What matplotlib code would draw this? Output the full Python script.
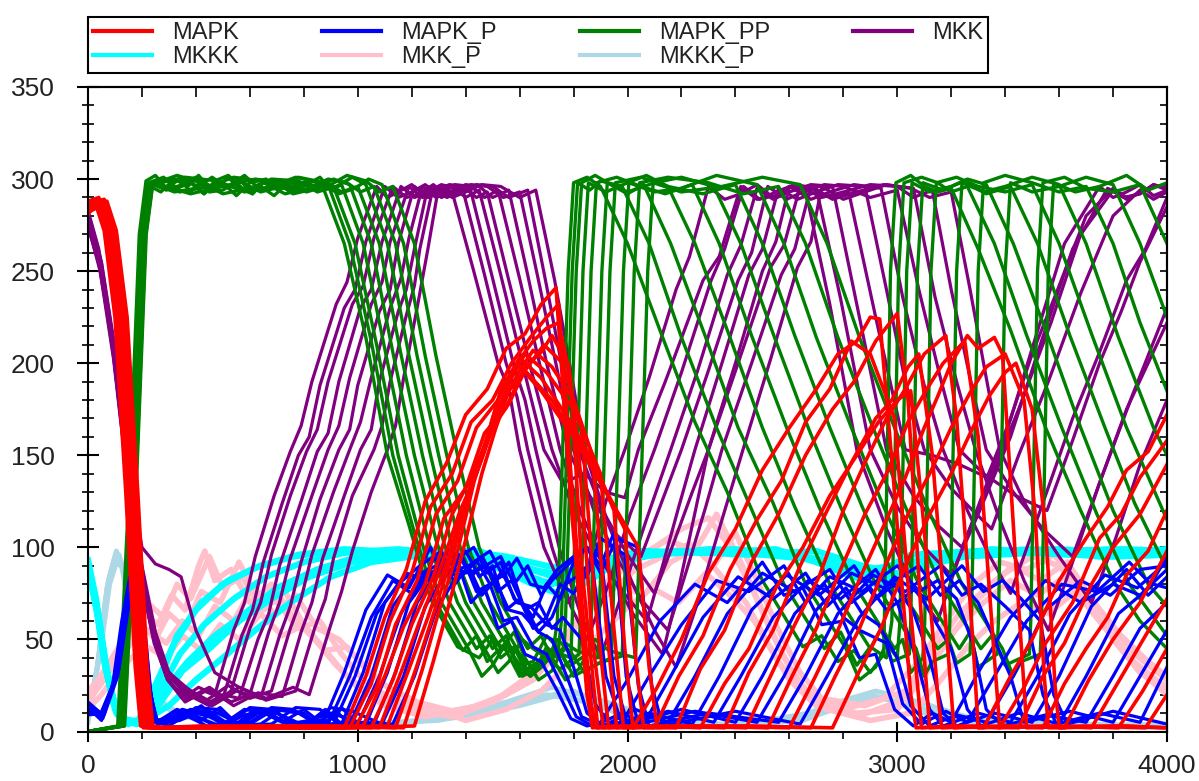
import matplotlib.pyplot as plt
from matplotlib.lines import Line2D
from matplotlib.ticker import MultipleLocator

plt.rcParams['font.family'] = ['Liberation Sans', 'DejaVu Sans']

# ten stochastic runs per species, each run a list of (time, molecules) vertices

mapk = [
    [(0, 283), (25, 288), (60, 272), (100, 225), (140, 130), (175, 35), (195, 3), (240, 2), (420, 3), (700, 2), (950, 2),
     (1030, 30), (1100, 62), (1180, 88), (1250, 125), (1330, 146), (1400, 172), (1480, 186), (1550, 208), (1620, 216),
     (1680, 232), (1735, 241), (1790, 125), (1850, 20), (1870, 2),
     (1950, 3), (2020, 2), (2110, 24), (2200, 50), (2300, 86), (2400, 110), (2500, 142), (2600, 165), (2700, 186),
     (2780, 205), (2850, 212), (2900, 225), (2935, 224), (2990, 130), (3050, 20), (3070, 2), (3200, 3), (3320, 2),
     (3420, 30), (3500, 50), (3600, 82), (3700, 105), (3780, 122), (3850, 142), (3930, 152), (4000, 172)],
    [(0, 286), (30, 289), (65, 273), (105, 226), (145, 132), (180, 36), (200, 3), (245, 2), (500, 3), (800, 2), (970, 2),
     (1050, 26), (1120, 60), (1200, 86), (1270, 122), (1350, 140), (1420, 168), (1500, 180), (1570, 200), (1640, 214),
     (1700, 225), (1745, 232), (1800, 120), (1865, 15), (1885, 2),
     (2000, 3), (2100, 2), (2190, 30), (2280, 52), (2380, 88), (2480, 115), (2570, 136), (2660, 168), (2750, 186),
     (2830, 212), (2900, 205), (2990, 170), (3040, 80), (3090, 2), (3250, 3), (3380, 2), (3470, 24), (3550, 48),
     (3650, 70), (3750, 105), (3830, 118), (3900, 138), (4000, 158)],
    [(0, 281), (35, 287), (70, 270), (110, 224), (150, 128), (185, 34), (205, 2), (250, 2), (600, 3), (990, 2),
     (1070, 24), (1140, 58), (1220, 82), (1290, 118), (1370, 136), (1440, 165), (1520, 180), (1590, 200), (1650, 212),
     (1700, 219), (1745, 222), (1790, 190), (1830, 90), (1890, 2),
     (2050, 3), (2180, 2), (2270, 34), (2360, 55), (2460, 92), (2560, 118), (2660, 150), (2760, 175), (2840, 190),
     (2920, 212), (3000, 227), (3040, 180), (3090, 60), (3120, 2), (3300, 3), (3450, 2), (3540, 30), (3620, 48),
     (3720, 80), (3800, 100), (3900, 118), (4000, 145)],
    [(0, 288), (40, 290), (75, 274), (115, 226), (155, 130), (190, 35), (210, 3), (255, 2), (650, 2), (1020, 3),
     (1100, 30), (1170, 57), (1250, 80), (1320, 116), (1400, 132), (1470, 162), (1550, 176), (1620, 198), (1680, 206),
     (1720, 215), (1780, 200), (1820, 150), (1870, 50), (1910, 2),
     (2100, 3), (2270, 2), (2360, 26), (2450, 45), (2550, 78), (2650, 100), (2750, 128), (2850, 150), (2930, 168),
     (3000, 180), (3050, 185), (3100, 110), (3150, 20), (3165, 2), (3400, 3), (3540, 2), (3620, 26), (3700, 45),
     (3780, 62), (3850, 85), (3930, 98), (4000, 120)],
    [(0, 284), (45, 287), (80, 271), (120, 225), (160, 131), (195, 36), (215, 3), (260, 2), (700, 3), (1050, 2),
     (1130, 28), (1200, 58), (1280, 84), (1350, 118), (1420, 138), (1500, 165), (1560, 178), (1620, 196), (1690, 210),
     (1760, 200), (1830, 165), (1880, 70), (1930, 2),
     (2150, 3), (2360, 2), (2450, 32), (2540, 55), (2640, 90), (2740, 120), (2830, 146), (2920, 170), (2980, 180),
     (3040, 198), (3080, 205), (3130, 150), (3190, 40), (3210, 2), (3450, 3), (3620, 2), (3710, 28), (3800, 50),
     (3900, 70), (4000, 98)],
    [(0, 285), (50, 288), (85, 272), (125, 224), (165, 129), (200, 34), (220, 2), (265, 2), (750, 3), (1080, 2),
     (1160, 32), (1230, 60), (1300, 86), (1380, 120), (1440, 140), (1500, 165), (1550, 182), (1600, 196), (1650, 207),
     (1720, 198), (1800, 180), (1870, 150), (1920, 60), (1960, 2),
     (2200, 3), (2440, 2), (2530, 30), (2620, 58), (2710, 84), (2800, 120), (2880, 146), (2960, 170), (3030, 186),
     (3100, 205), (3180, 215), (3220, 170), (3280, 50), (3300, 2), (3550, 3), (3720, 2), (3800, 22), (3880, 42),
     (4000, 72)],
    [(0, 282), (55, 286), (90, 270), (130, 225), (170, 130), (205, 35), (225, 3), (270, 2), (800, 2), (1110, 3),
     (1190, 34), (1260, 62), (1330, 92), (1400, 125), (1460, 148), (1520, 175), (1570, 192), (1620, 205), (1700, 195),
     (1800, 175), (1900, 140), (1950, 55), (1985, 2),
     (2250, 3), (2520, 2), (2610, 30), (2700, 56), (2790, 88), (2880, 118), (2960, 140), (3040, 168), (3110, 186),
     (3170, 200), (3250, 212), (3300, 160), (3360, 40), (3380, 2), (3600, 3), (3820, 2), (3910, 22), (4000, 45)],
    [(0, 287), (60, 289), (95, 273), (135, 226), (175, 131), (210, 36), (230, 3), (275, 2), (850, 3), (1140, 2),
     (1220, 36), (1290, 68), (1360, 100), (1420, 135), (1480, 160), (1530, 185), (1600, 203), (1680, 192), (1780, 170),
     (1880, 145), (1950, 120), (1990, 45), (2020, 2),
     (2300, 3), (2600, 2), (2690, 28), (2780, 55), (2870, 86), (2960, 115), (3030, 138), (3100, 165), (3150, 182),
     (3200, 200), (3260, 215), (3300, 208), (3360, 214), (3390, 205), (3440, 90), (3480, 2), (3700, 3), (3920, 2),
     (4000, 20)],
    [(0, 283), (65, 287), (100, 271), (140, 224), (180, 130), (215, 35), (235, 2), (280, 2), (900, 3), (1170, 2),
     (1240, 34), (1300, 65), (1370, 98), (1430, 135), (1480, 160), (1530, 185), (1590, 200), (1680, 185), (1800, 160),
     (1920, 130), (1990, 110), (2030, 40), (2060, 2),
     (2400, 3), (2680, 2), (2770, 30), (2860, 56), (2950, 88), (3040, 118), (3120, 140), (3200, 165), (3270, 184),
     (3330, 198), (3400, 205), (3470, 180), (3510, 120), (3545, 30), (3560, 2), (3800, 3), (4000, 2)],
    [(0, 286), (70, 288), (105, 272), (145, 225), (185, 129), (220, 34), (240, 3), (285, 2), (950, 2), (1210, 3),
     (1280, 38), (1340, 70), (1400, 104), (1460, 140), (1510, 164), (1560, 185), (1620, 196), (1720, 180), (1850, 150),
     (1960, 120), (2040, 100), (2080, 35), (2110, 2),
     (2450, 3), (2760, 2), (2850, 30), (2940, 56), (3030, 90), (3120, 118), (3200, 140), (3280, 165), (3340, 182),
     (3400, 195), (3440, 200), (3500, 175), (3550, 110), (3585, 25), (3600, 2), (3850, 3), (4000, 2)],
]

mapk_p = [
    [(0, 12), (45, 8), (90, 24), (125, 60), (155, 84), (180, 80), (205, 42), (230, 9), (280, 4), (350, 12), (420, 6),
     (490, 13), (560, 3), (640, 11), (720, 5), (800, 12), (870, 4), (950, 32), (1030, 66), (1110, 85), (1190, 78),
     (1270, 100), (1320, 84), (1370, 92), (1420, 70), (1470, 78), (1520, 56), (1570, 60), (1620, 42), (1680, 38),
     (1740, 22), (1790, 7), (1850, 3), (1900, 5), (2000, 28), (2120, 60), (2250, 80), (2370, 70), (2500, 92),
     (2580, 74), (2650, 78), (2720, 58), (2800, 60), (2860, 40), (2920, 42), (2990, 12), (3060, 3), (3130, 10),
     (3200, 5), (3300, 32), (3420, 62), (3550, 82), (3680, 70), (3800, 80), (3900, 74), (4000, 88)],
    [(0, 10), (50, 9), (95, 26), (130, 62), (160, 86), (185, 78), (210, 38), (235, 7), (300, 3), (370, 10), (450, 11),
     (520, 4), (600, 5), (680, 13), (760, 12), (830, 6), (890, 4), (970, 30), (1050, 62), (1130, 82), (1210, 74),
     (1290, 96), (1340, 86), (1390, 94), (1440, 76), (1490, 80), (1540, 60), (1590, 62), (1650, 46), (1700, 42),
     (1760, 24), (1810, 8), (1870, 3), (1980, 5), (2080, 30), (2200, 58), (2330, 82), (2450, 76), (2580, 90),
     (2660, 70), (2730, 80), (2800, 62), (2860, 55), (2960, 48), (3020, 15), (3090, 4), (3180, 11), (3260, 5),
     (3360, 30), (3480, 60), (3610, 80), (3740, 76), (3860, 92), (3940, 80), (4000, 95)],
    [(0, 14), (55, 7), (100, 28), (135, 64), (165, 85), (190, 75), (215, 35), (240, 6), (320, 5), (400, 13), (480, 12),
     (560, 3), (640, 4), (720, 12), (800, 10), (860, 3), (910, 4), (990, 30), (1070, 64), (1150, 80), (1230, 90),
     (1310, 98), (1360, 80), (1410, 90), (1460, 74), (1510, 82), (1560, 66), (1610, 64), (1670, 54), (1720, 50),
     (1780, 28), (1830, 8), (1890, 4), (1980, 10), (2060, 4), (2160, 30), (2280, 62), (2410, 84), (2540, 72),
     (2660, 86), (2740, 68), (2810, 78), (2870, 64), (2930, 58), (3000, 40), (3050, 14), (3120, 3), (3220, 9),
     (3330, 5), (3430, 30), (3550, 66), (3680, 82), (3790, 74), (3900, 88), (4000, 90)],
    [(0, 9), (60, 10), (100, 30), (140, 66), (170, 84), (195, 72), (220, 30), (245, 5), (340, 7), (420, 14), (500, 3),
     (580, 9), (660, 11), (740, 4), (820, 5), (880, 12), (940, 4), (1020, 32), (1100, 70), (1180, 86), (1260, 82),
     (1340, 99), (1390, 86), (1440, 93), (1490, 80), (1540, 85), (1590, 70), (1640, 68), (1700, 58), (1750, 55),
     (1800, 35), (1850, 10), (1910, 3), (2030, 12), (2150, 5), (2250, 30), (2370, 64), (2500, 86), (2620, 76),
     (2750, 88), (2830, 70), (2900, 78), (2960, 66), (3000, 70), (3070, 40), (3120, 12), (3170, 3), (3300, 10),
     (3420, 5), (3520, 30), (3640, 64), (3770, 85), (3890, 78), (4000, 92)],
    [(0, 13), (50, 6), (105, 32), (140, 68), (170, 86), (198, 70), (224, 28), (250, 6), (360, 9), (440, 3), (520, 4),
     (600, 13), (680, 12), (770, 3), (860, 6), (920, 11), (970, 4), (1050, 30), (1130, 68), (1210, 84), (1290, 90),
     (1370, 97), (1420, 84), (1470, 92), (1520, 76), (1570, 82), (1620, 66), (1670, 70), (1720, 56), (1760, 62),
     (1830, 50), (1880, 15), (1940, 3), (2080, 10), (2240, 4), (2340, 30), (2460, 66), (2590, 85), (2710, 74),
     (2840, 90), (2920, 72), (2990, 80), (3060, 65), (3120, 40), (3170, 10), (3220, 3), (3360, 10), (3500, 5),
     (3600, 30), (3720, 68), (3850, 88), (3930, 74), (4000, 84)],
    [(0, 11), (45, 9), (105, 30), (145, 70), (172, 88), (200, 66), (226, 26), (252, 5), (380, 10), (460, 4), (540, 3),
     (620, 12), (700, 10), (790, 4), (880, 5), (940, 13), (1000, 4), (1080, 30), (1160, 64), (1240, 85), (1320, 88),
     (1400, 98), (1450, 84), (1500, 90), (1550, 66), (1600, 72), (1650, 56), (1700, 62), (1750, 80), (1800, 75),
     (1870, 90), (1920, 30), (1980, 4), (2150, 11), (2320, 5), (2420, 30), (2540, 62), (2670, 82), (2790, 72),
     (2920, 88), (3000, 70), (3070, 78), (3140, 60), (3200, 45), (3260, 12), (3310, 3), (3450, 10), (3600, 4),
     (3700, 30), (3820, 64), (3950, 80), (4000, 78)],
    [(0, 15), (55, 8), (110, 33), (148, 70), (175, 85), (202, 64), (228, 24), (254, 5), (330, 12), (400, 8), (490, 3),
     (580, 12), (660, 10), (740, 4), (820, 6), (900, 10), (1030, 4), (1110, 32), (1190, 70), (1270, 86), (1350, 92),
     (1430, 100), (1480, 86), (1530, 92), (1580, 72), (1620, 68), (1670, 54), (1720, 62), (1770, 80), (1820, 85),
     (1900, 98), (1950, 30), (2000, 4), (2200, 12), (2400, 5), (2500, 30), (2620, 64), (2750, 84), (2870, 76),
     (3000, 90), (3080, 76), (3150, 82), (3220, 72), (3280, 48), (3330, 12), (3390, 3), (3550, 9), (3700, 5),
     (3800, 30), (3900, 56), (4000, 70)],
    [(0, 10), (60, 9), (110, 30), (150, 72), (178, 86), (205, 62), (230, 22), (256, 4), (340, 6), (420, 11), (510, 3),
     (600, 4), (690, 12), (780, 10), (860, 3), (940, 5), (1060, 4), (1140, 32), (1220, 70), (1300, 88), (1380, 84),
     (1460, 95), (1510, 82), (1560, 92), (1610, 70), (1650, 62), (1700, 80), (1750, 72), (1800, 92), (1850, 100),
     (1900, 90), (1950, 108), (1995, 30), (2040, 4), (2250, 11), (2480, 5), (2580, 30), (2700, 66), (2830, 86),
     (2950, 78), (3080, 90), (3160, 74), (3230, 82), (3300, 70), (3360, 50), (3420, 30), (3470, 5), (3640, 11),
     (3800, 5), (3900, 30), (4000, 55)],
    [(0, 12), (50, 10), (112, 32), (152, 74), (180, 84), (208, 58), (232, 20), (258, 4), (350, 12), (450, 8), (540, 3),
     (640, 12), (730, 5), (820, 4), (900, 13), (980, 11), (1090, 4), (1170, 30), (1250, 68), (1330, 86), (1410, 90),
     (1490, 98), (1540, 84), (1590, 94), (1640, 80), (1690, 78), (1740, 88), (1800, 95), (1850, 84), (1900, 105),
     (1990, 96), (2040, 25), (2080, 3), (2300, 10), (2560, 5), (2660, 30), (2780, 64), (2910, 85), (3030, 76),
     (3160, 90), (3240, 74), (3310, 80), (3400, 68), (3490, 55), (3540, 20), (3590, 4), (3750, 10), (3900, 5),
     (4000, 35)],
    [(0, 16), (55, 9), (115, 34), (155, 72), (182, 82), (210, 56), (235, 18), (260, 4), (380, 12), (480, 10), (580, 3),
     (680, 4), (770, 13), (860, 12), (940, 3), (1020, 5), (1130, 4), (1210, 30), (1290, 66), (1370, 85), (1450, 88),
     (1530, 95), (1580, 80), (1630, 90), (1680, 74), (1720, 82), (1790, 92), (1850, 100), (1900, 86), (1960, 105),
     (2040, 100), (2090, 25), (2130, 3), (2400, 11), (2640, 4), (2740, 30), (2860, 62), (2990, 84), (3110, 72),
     (3240, 90), (3320, 76), (3390, 82), (3460, 72), (3530, 60), (3580, 20), (3630, 4), (3800, 11), (4000, 4)],
]

mapk_pp = [
    [(0, 0), (110, 3), (155, 140), (190, 270), (215, 299), (250, 302), (290, 295), (340, 300), (380, 293), (420, 299),
     (470, 295), (520, 301), (560, 295), (610, 292), (650, 299), (700, 298), (760, 294), (800, 297),
     (870, 296), (950, 265), (1030, 214), (1110, 150), (1190, 112), (1270, 72), (1370, 46), (1450, 40), (1500, 50),
     (1550, 44), (1600, 30), (1650, 36), (1720, 40),
     (1740, 60), (1780, 250), (1800, 298), (1850, 301), (1900, 296), (2000, 265), (2120, 218), (2250, 168), (2370, 130),
     (2500, 82), (2650, 46), (2720, 52), (2780, 38), (2840, 44),
     (2900, 32), (2950, 42), (2975, 250), (2995, 298), (3050, 302), (3100, 296), (3150, 293), (3200, 295), (3300, 262),
     (3420, 218), (3550, 165), (3680, 120), (3800, 82), (3900, 60), (4000, 45)],
    [(0, 0), (115, 3), (160, 140), (195, 270), (220, 297), (270, 293), (320, 300), (370, 296), (410, 302), (450, 295),
     (500, 298), (550, 291), (600, 298), (660, 300), (700, 295), (750, 296), (820, 299), (890, 297),
     (970, 265), (1050, 212), (1130, 150), (1210, 108), (1290, 70), (1390, 44), (1440, 52), (1480, 38), (1520, 44),
     (1560, 46), (1610, 30), (1660, 34), (1700, 46), (1740, 40), (1755, 60),
     (1795, 250), (1815, 298), (1860, 294), (1900, 299), (1980, 296), (2080, 265), (2200, 214), (2330, 165),
     (2450, 124), (2580, 80), (2730, 45), (2790, 54), (2850, 36), (2900, 46), (2960, 40), (2980, 60),
     (3005, 250), (3025, 298), (3090, 301), (3150, 298), (3200, 293), (3260, 296), (3360, 265), (3480, 215),
     (3610, 165), (3740, 118), (3860, 80), (4000, 52)],
    [(0, 0), (120, 3), (165, 140), (200, 270), (225, 298), (280, 301), (330, 295), (380, 298), (430, 292), (470, 299),
     (520, 302), (580, 294), (640, 296), (690, 291), (740, 298), (800, 298), (860, 294), (910, 296),
     (990, 265), (1070, 210), (1150, 150), (1230, 106), (1310, 70), (1410, 45), (1460, 30), (1500, 36), (1550, 48),
     (1600, 42), (1650, 34), (1700, 38), (1765, 44), (1770, 60),
     (1810, 250), (1830, 298), (1880, 302), (1950, 296), (2000, 292), (2060, 297), (2160, 265), (2290, 214),
     (2410, 165), (2540, 124), (2660, 80), (2810, 45), (2860, 28), (2920, 35), (2960, 48), (3000, 40), (3010, 60),
     (3035, 250), (3055, 298), (3120, 293), (3200, 296), (3260, 300), (3330, 297), (3430, 265), (3560, 214),
     (3680, 165), (3800, 120), (3930, 80), (4000, 68)],
    [(0, 0), (123, 3), (168, 140), (203, 270), (228, 298), (290, 294), (350, 297), (400, 301), (450, 293),
     (500, 294), (560, 300), (610, 292), (650, 298), (720, 295), (800, 296), (860, 301), (900, 294), (940, 297),
     (1020, 265), (1100, 208), (1180, 150), (1260, 104), (1340, 70), (1440, 45), (1490, 52), (1530, 40), (1580, 46),
     (1620, 33), (1670, 38), (1720, 44), (1790, 40), (1795, 60),
     (1835, 250), (1855, 298), (1920, 293), (2000, 298), (2070, 302), (2150, 296), (2250, 265), (2380, 214),
     (2500, 165), (2620, 122), (2750, 80), (2900, 45), (2940, 56), (2980, 38), (3045, 42), (3050, 60),
     (3075, 250), (3095, 298), (3170, 294), (3250, 299), (3330, 292), (3420, 296), (3520, 265), (3640, 215),
     (3770, 165), (3880, 124), (4000, 88)],
    [(0, 0), (126, 3), (171, 140), (206, 270), (231, 297), (300, 300), (380, 299), (430, 292), (480, 298),
     (520, 296), (580, 302), (640, 294), (700, 298), (760, 292), (850, 295), (910, 300), (970, 297),
     (1050, 265), (1130, 206), (1210, 150), (1290, 104), (1370, 70), (1470, 45), (1520, 32), (1560, 38), (1610, 50),
     (1650, 45), (1700, 40), (1750, 34), (1820, 42), (1825, 60),
     (1865, 250), (1885, 298), (1960, 301), (2050, 296), (2140, 292), (2240, 297), (2340, 265), (2460, 215),
     (2590, 165), (2710, 122), (2840, 80), (2990, 45), (3020, 50), (3050, 32), (3095, 40), (3102, 60),
     (3125, 250), (3145, 298), (3220, 301), (3300, 296), (3400, 293), (3500, 297), (3600, 265), (3720, 216),
     (3850, 165), (4000, 115)],
    [(0, 0), (128, 3), (173, 140), (208, 270), (233, 298), (320, 293), (400, 295), (460, 301), (520, 295),
     (560, 299), (640, 293), (720, 296), (780, 301), (880, 298), (940, 293), (1000, 296),
     (1080, 265), (1160, 205), (1240, 150), (1320, 102), (1400, 70), (1500, 45), (1550, 52), (1590, 36), (1640, 30),
     (1690, 42), (1740, 46), (1780, 35), (1860, 43), (1865, 60),
     (1905, 250), (1925, 298), (2000, 293), (2100, 298), (2200, 301), (2320, 296), (2420, 265), (2540, 216),
     (2670, 165), (2790, 122), (2920, 80), (3070, 45), (3100, 30), (3130, 38), (3190, 42), (3195, 60),
     (3220, 250), (3240, 298), (3320, 293), (3400, 296), (3500, 301), (3600, 297), (3700, 265), (3820, 214),
     (3950, 165), (4000, 150)],
    [(0, 0), (130, 3), (175, 140), (210, 270), (235, 297), (330, 302), (420, 298), (500, 292), (600, 295),
     (680, 300), (780, 299), (850, 293), (920, 296), (980, 301), (1030, 297),
     (1110, 265), (1190, 204), (1270, 150), (1350, 100), (1430, 70), (1530, 45), (1580, 54), (1620, 40), (1670, 28),
     (1720, 33), (1770, 48), (1810, 44), (1890, 40), (1895, 60),
     (1935, 250), (1955, 298), (2050, 301), (2150, 296), (2280, 292), (2400, 297), (2500, 265), (2620, 215),
     (2750, 165), (2870, 122), (3000, 80), (3150, 45), (3190, 50), (3220, 37), (3270, 42), (3275, 60),
     (3300, 250), (3320, 298), (3400, 302), (3500, 298), (3600, 293), (3700, 296), (3800, 265), (3900, 222),
     (4000, 185)],
    [(0, 0), (132, 3), (177, 140), (212, 270), (237, 298), (340, 293), (450, 296), (540, 301), (640, 299),
     (730, 292), (820, 295), (890, 300), (960, 298), (1010, 293), (1060, 296),
     (1140, 265), (1220, 204), (1300, 150), (1380, 100), (1460, 70), (1560, 45), (1600, 36), (1650, 38), (1700, 52),
     (1750, 44), (1800, 30), (1850, 34), (1940, 40), (1945, 60),
     (1985, 250), (2005, 298), (2100, 293), (2200, 295), (2330, 302), (2480, 297), (2580, 265), (2700, 214),
     (2830, 165), (2950, 122), (3080, 80), (3230, 45), (3270, 54), (3300, 35), (3370, 42), (3375, 60),
     (3400, 250), (3420, 298), (3500, 293), (3600, 296), (3700, 301), (3800, 297), (3900, 265), (4000, 225)],
    [(0, 0), (134, 3), (179, 140), (214, 270), (239, 297), (360, 301), (480, 299), (580, 293), (680, 296),
     (770, 301), (860, 298), (930, 292), (990, 295), (1040, 300), (1090, 297),
     (1170, 265), (1250, 204), (1330, 150), (1410, 100), (1490, 70), (1590, 45), (1640, 30), (1690, 36), (1740, 50),
     (1790, 43), (1840, 32), (1890, 37), (1980, 41), (1985, 60),
     (2025, 250), (2045, 298), (2150, 301), (2300, 298), (2430, 292), (2560, 296), (2660, 265), (2780, 214),
     (2910, 165), (3030, 122), (3160, 80), (3310, 45), (3350, 52), (3400, 36), (3490, 42), (3495, 60),
     (3520, 250), (3540, 298), (3620, 301), (3700, 295), (3800, 293), (3900, 297), (4000, 265)],
    [(0, 0), (136, 3), (181, 140), (216, 270), (241, 298), (380, 292), (500, 296), (620, 300), (720, 298),
     (810, 293), (900, 297), (960, 302), (1030, 299), (1080, 293), (1130, 296),
     (1210, 265), (1290, 204), (1370, 150), (1450, 100), (1530, 70), (1630, 45), (1680, 52), (1720, 40), (1770, 28),
     (1820, 34), (1880, 50), (1930, 44), (2030, 40), (2035, 60),
     (2075, 250), (2095, 298), (2200, 293), (2350, 296), (2500, 301), (2640, 297), (2740, 265), (2860, 214),
     (2990, 165), (3110, 122), (3240, 80), (3390, 45), (3430, 30), (3460, 38), (3530, 42), (3535, 60),
     (3560, 250), (3580, 298), (3660, 293), (3750, 296), (3850, 302), (3930, 294), (4000, 298)],
]

mkk = [
    [(0, 280), (40, 258), (90, 210), (140, 146), (190, 90), (240, 52), (290, 30), (350, 18), (410, 24), (470, 20),
     (540, 55), (580, 70), (620, 95), (690, 128), (750, 152), (790, 166), (830, 190), (920, 232), (960, 244),
     (1000, 268), (1070, 296), (1110, 290), (1150, 293), (1200, 297), (1250, 291), (1300, 296), (1350, 293),
     (1430, 250), (1520, 200), (1560, 186), (1600, 153), (1690, 100), (1780, 70), (1850, 88),
     (1920, 125), (1990, 153), (2080, 192), (2180, 240), (2230, 258), (2300, 296), (2360, 289), (2420, 292),
     (2480, 297), (2540, 290), (2600, 296), (2660, 294), (2750, 232), (2850, 153), (2960, 110), (3060, 78),
     (3150, 60), (3230, 95), (3320, 130), (3400, 160), (3500, 208), (3620, 265), (3750, 296), (3800, 290),
     (3850, 293), (3900, 297), (3950, 291), (4000, 294)],
    [(0, 276), (45, 252), (95, 204), (145, 140), (195, 86), (245, 50), (295, 28), (360, 16), (430, 22), (500, 18),
     (570, 52), (610, 66), (650, 92), (720, 124), (780, 150), (820, 160), (860, 188), (950, 230), (990, 240),
     (1030, 266), (1100, 296), (1150, 290), (1200, 293), (1250, 297), (1300, 291), (1350, 296), (1390, 294),
     (1470, 248), (1550, 200), (1590, 182), (1630, 153), (1720, 100), (1790, 68), (1850, 50),
     (1930, 80), (2010, 118), (2100, 153), (2200, 195), (2310, 245), (2360, 262), (2430, 296), (2490, 289),
     (2550, 293), (2620, 297), (2700, 295), (2790, 235), (2900, 153), (3000, 122), (3100, 100), (3200, 85),
     (3300, 118), (3420, 160), (3530, 210), (3650, 262), (3780, 295), (3840, 290), (3900, 292), (3950, 297),
     (4000, 295)],
    [(0, 282), (50, 255), (100, 208), (150, 142), (200, 88), (250, 50), (300, 30), (370, 20), (450, 14), (530, 22),
     (600, 56), (640, 70), (680, 96), (750, 128), (810, 152), (850, 164), (890, 190), (980, 232), (1020, 242),
     (1060, 268), (1130, 296), (1180, 290), (1230, 292), (1280, 297), (1330, 291), (1380, 296), (1420, 293),
     (1500, 246), (1580, 198), (1620, 180), (1660, 153), (1750, 98), (1830, 62), (1900, 40),
     (1980, 75), (2070, 115), (2160, 153), (2260, 196), (2370, 248), (2420, 264), (2480, 295), (2540, 289),
     (2600, 293), (2680, 297), (2760, 296), (2850, 232), (2960, 153), (3060, 128), (3150, 112), (3240, 100),
     (3340, 135), (3450, 175), (3570, 222), (3680, 270), (3800, 294), (3850, 289), (3900, 293), (3950, 296),
     (4000, 296)],
    [(0, 274), (40, 254), (90, 212), (140, 150), (190, 96), (240, 58), (290, 34), (360, 22), (440, 15), (500, 20),
     (560, 18), (630, 50), (670, 64), (710, 90), (790, 125), (850, 152), (890, 162), (930, 190), (1010, 230),
     (1050, 240), (1090, 266), (1160, 296), (1210, 290), (1260, 293), (1310, 297), (1360, 295), (1400, 290),
     (1450, 294), (1530, 248), (1610, 200), (1690, 153), (1760, 135), (1840, 140),
     (1920, 130), (1990, 127), (2040, 153), (2140, 190), (2280, 245), (2340, 258), (2420, 296), (2480, 289),
     (2550, 291), (2620, 297), (2680, 295), (2750, 290), (2820, 293), (2920, 225), (3030, 153), (3130, 150),
     (3230, 145), (3333, 138), (3420, 170), (3500, 205), (3600, 242), (3700, 280), (3800, 295), (3850, 290),
     (3900, 292), (3950, 297), (4000, 294)],
    [(0, 279), (45, 256), (95, 208), (145, 144), (195, 90), (245, 54), (295, 32), (370, 18), (450, 24), (530, 16),
     (600, 20), (670, 54), (710, 70), (750, 94), (830, 128), (890, 153), (930, 166), (970, 192), (1050, 232),
     (1090, 244), (1120, 266), (1190, 296), (1240, 290), (1290, 294), (1340, 297), (1390, 296), (1440, 290),
     (1480, 293), (1560, 245), (1640, 198), (1720, 153), (1800, 120), (1880, 98),
     (1960, 80), (2072, 60), (2130, 90), (2190, 122), (2250, 153), (2350, 200), (2450, 248), (2500, 262),
     (2560, 295), (2630, 289), (2700, 293), (2780, 297), (2880, 296), (2960, 240), (3030, 190), (3100, 153),
     (3200, 132), (3280, 120), (3350, 110), (3450, 150), (3560, 190), (3680, 238), (3800, 280), (3900, 294),
     (3950, 289), (4000, 293)],
    [(0, 277), (50, 250), (100, 206), (150, 140), (200, 88), (250, 52), (300, 30), (380, 20), (460, 14), (550, 22),
     (640, 18), (710, 52), (750, 68), (790, 92), (860, 126), (930, 153), (970, 164), (1000, 188), (1080, 228),
     (1120, 240), (1150, 265), (1210, 296), (1260, 290), (1310, 293), (1360, 297), (1420, 296), (1470, 290),
     (1520, 294), (1600, 246), (1680, 196), (1750, 153), (1830, 118), (1920, 90),
     (2020, 64), (2130, 42), (2190, 78), (2240, 112), (2300, 153), (2400, 200), (2500, 250), (2550, 266),
     (2600, 296), (2680, 289), (2750, 293), (2840, 297), (2940, 295), (3020, 236), (3100, 188), (3170, 153),
     (3260, 120), (3340, 96), (3420, 75), (3530, 120), (3650, 170), (3750, 206), (3850, 245), (3920, 262),
     (4000, 290)],
    [(0, 283), (40, 262), (90, 215), (140, 150), (190, 94), (240, 56), (290, 33), (360, 24), (440, 17), (520, 25),
     (600, 18), (680, 22), (750, 56), (790, 72), (830, 96), (910, 130), (970, 153), (1010, 168), (1050, 192),
     (1120, 230), (1160, 246), (1190, 268), (1240, 296), (1290, 290), (1340, 293), (1400, 297), (1450, 296),
     (1500, 290), (1560, 294), (1630, 248), (1700, 200), (1780, 153), (1860, 128),
     (1950, 108), (2050, 95), (2120, 122), (2200, 153), (2300, 196), (2410, 245), (2460, 260), (2520, 296),
     (2590, 289), (2650, 293), (2730, 297), (2800, 296), (2900, 290), (3000, 294), (3080, 240), (3160, 192),
     (3230, 153), (3320, 140), (3440, 128), (3555, 120), (3650, 158), (3750, 200), (3830, 228), (3900, 255),
     (4000, 285)],
    [(0, 275), (45, 250), (95, 202), (145, 138), (195, 84), (245, 48), (295, 28), (370, 17), (450, 23), (540, 14),
     (630, 21), (720, 19), (790, 54), (830, 70), (870, 94), (950, 128), (1010, 153), (1050, 164), (1080, 190),
     (1150, 228), (1180, 240), (1210, 262), (1260, 296), (1310, 290), (1360, 293), (1420, 297), (1480, 296),
     (1540, 290), (1600, 293), (1670, 245), (1740, 196), (1800, 153), (1880, 118),
     (1970, 92), (2060, 70), (2150, 55), (2220, 88), (2290, 122), (2350, 153), (2460, 200), (2570, 248),
     (2620, 262), (2680, 296), (2760, 289), (2850, 293), (2950, 297), (3060, 295), (3140, 236), (3220, 190),
     (3290, 153), (3380, 115), (3470, 82), (3560, 55), (3650, 92), (3750, 135), (3870, 182), (4000, 230)],
    [(0, 281), (50, 254), (100, 206), (150, 144), (200, 90), (250, 54), (300, 32), (380, 22), (470, 15), (560, 24),
     (660, 17), (770, 22), (840, 56), (880, 72), (910, 94), (980, 128), (1060, 153), (1090, 166), (1120, 190),
     (1180, 226), (1210, 242), (1230, 262), (1280, 296), (1330, 290), (1380, 293), (1440, 297), (1500, 296),
     (1560, 290), (1630, 294), (1700, 242), (1760, 196), (1820, 153), (1900, 122),
     (2000, 96), (2100, 75), (2170, 102), (2240, 130), (2300, 153), (2410, 200), (2530, 252), (2580, 264),
     (2640, 296), (2720, 290), (2800, 293), (2900, 297), (3000, 296), (3060, 290), (3130, 294), (3200, 240),
     (3270, 192), (3330, 153), (3430, 130), (3540, 110), (3650, 95), (3750, 135), (3850, 175), (4000, 222)],
    [(0, 278), (50, 250), (100, 205), (150, 145), (200, 100), (250, 91), (300, 88), (345, 84), (400, 55), (470, 32),
     (560, 24), (660, 18), (760, 24), (820, 20), (900, 58), (940, 76), (980, 98), (1050, 130), (1110, 153),
     (1140, 166), (1170, 192), (1220, 230), (1260, 262), (1300, 296), (1350, 290), (1400, 293), (1460, 297),
     (1530, 296), (1600, 290), (1660, 294), (1730, 245), (1790, 196), (1840, 153), (1930, 112),
     (2020, 80), (2100, 55), (2180, 35), (2260, 70), (2340, 110), (2428, 153), (2530, 202), (2630, 252),
     (2680, 266), (2720, 296), (2800, 289), (2880, 293), (2960, 297), (3050, 295), (3120, 290), (3200, 293),
     (3270, 240), (3330, 192), (3380, 153), (3480, 122), (3600, 95), (3720, 70), (3810, 105), (3900, 145),
     (4000, 180)],
]

mkkk = [
    [(0, 92), (30, 68), (60, 38), (95, 15), (130, 6), (180, 4), (240, 22), (320, 48), (400, 66), (500, 80), (620, 89),
     (760, 95), (900, 98), (1100, 97), (1300, 99), (1450, 94), (1600, 86), (1720, 80), (1800, 84), (1900, 93),
     (2050, 98), (2300, 97), (2550, 99), (2700, 92), (2850, 84), (2950, 88), (3050, 96), (3300, 98), (3600, 97),
     (3800, 99), (4000, 97)],
    [(0, 90), (35, 66), (65, 35), (100, 12), (140, 5), (190, 6), (260, 20), (340, 42), (430, 58), (540, 72), (660, 84),
     (800, 92), (950, 97), (1150, 99), (1350, 96), (1500, 90), (1650, 80), (1760, 74), (1860, 82), (1960, 92),
     (2100, 97), (2400, 99), (2650, 95), (2800, 86), (2920, 80), (3020, 85), (3120, 94), (3350, 99), (3650, 96),
     (4000, 99)],
    [(0, 88), (40, 62), (70, 32), (105, 10), (150, 4), (210, 8), (280, 22), (370, 38), (470, 52), (580, 64), (700, 78),
     (850, 88), (1000, 95), (1200, 98), (1400, 97), (1550, 92), (1700, 86), (1820, 82), (1920, 88), (2050, 95),
     (2300, 99), (2600, 97), (2800, 90), (2950, 84), (3080, 88), (3200, 96), (3500, 99), (3750, 95), (4000, 96)],
    [(0, 93), (30, 72), (60, 42), (90, 18), (125, 7), (200, 5), (270, 16), (350, 33), (450, 45), (560, 60), (680, 72),
     (820, 84), (980, 92), (1150, 96), (1350, 99), (1550, 95), (1700, 90), (1850, 86), (1980, 92), (2150, 98),
     (2450, 96), (2700, 98), (2870, 90), (3000, 86), (3150, 92), (3300, 98), (3600, 99), (3900, 96), (4000, 97)],
    [(0, 89), (35, 64), (65, 36), (100, 14), (140, 6), (195, 4), (260, 26), (330, 52), (420, 70), (520, 82), (640, 90),
     (780, 96), (950, 99), (1200, 97), (1450, 98), (1600, 90), (1750, 83), (1880, 86), (2000, 94), (2200, 98),
     (2500, 97), (2750, 93), (2900, 88), (3050, 92), (3250, 97), (3550, 98), (3850, 99), (4000, 98)],
    [(0, 91), (40, 60), (75, 28), (110, 9), (160, 5), (220, 7), (300, 14), (400, 28), (500, 40), (620, 55), (750, 70),
     (900, 84), (1050, 92), (1250, 96), (1450, 93), (1620, 88), (1780, 85), (1900, 90), (2050, 96), (2350, 98),
     (2650, 94), (2820, 88), (2980, 84), (3100, 90), (3250, 95), (3500, 97), (3800, 95), (4000, 96)],
]

mkk_p = [
    [(0, 18), (40, 24), (90, 35), (150, 52), (210, 64), (260, 58), (310, 74), (360, 66), (410, 90), (433, 98),
     (470, 82), (530, 88), (600, 70), (680, 80), (760, 62), (840, 50), (920, 36), (1000, 24), (1100, 14), (1250, 8),
     (1400, 12), (1550, 20), (1700, 36), (1800, 58), (1900, 78), (2000, 92), (2100, 100), (2200, 110), (2300, 116),
     (2380, 100), (2460, 78), (2540, 52), (2620, 30), (2700, 16), (2850, 10), (3000, 12), (3100, 30), (3200, 52),
     (3300, 72), (3400, 86), (3500, 95), (3600, 90), (3700, 72), (3800, 50), (3900, 32), (4000, 22)],
    [(0, 22), (50, 30), (100, 42), (160, 50), (220, 70), (280, 62), (330, 80), (380, 72), (450, 95), (500, 78),
     (570, 84), (650, 66), (730, 76), (800, 58), (880, 44), (960, 30), (1050, 20), (1200, 12), (1350, 8), (1500, 16),
     (1650, 28), (1750, 45), (1850, 65), (1950, 84), (2050, 96), (2150, 104), (2250, 98), (2330, 118), (2420, 92),
     (2500, 66), (2580, 40), (2660, 22), (2800, 12), (2950, 18), (3080, 38), (3180, 60), (3280, 80), (3380, 92),
     (3480, 88), (3580, 96), (3680, 80), (3780, 60), (3880, 42), (4000, 28)],
    [(0, 15), (45, 26), (95, 38), (150, 46), (200, 58), (250, 50), (300, 64), (360, 56), (420, 76), (490, 70),
     (560, 92), (620, 75), (700, 70), (780, 56), (860, 60), (940, 42), (1020, 28), (1120, 18), (1300, 10),
     (1450, 14), (1600, 24), (1720, 40), (1830, 62), (1930, 75), (2030, 88), (2130, 95), (2230, 102), (2320, 90),
     (2400, 108), (2480, 82), (2560, 55), (2640, 32), (2720, 18), (2880, 14), (3030, 22), (3130, 44), (3230, 64),
     (3330, 78), (3430, 90), (3530, 82), (3630, 92), (3730, 70), (3830, 52), (3930, 38), (4000, 30)],
    [(0, 20), (55, 32), (110, 45), (170, 60), (230, 54), (290, 48), (350, 60), (410, 52), (470, 68), (540, 60),
     (610, 78), (690, 64), (770, 74), (850, 56), (930, 50), (1010, 38), (1100, 25), (1220, 16), (1380, 10),
     (1520, 18), (1650, 32), (1760, 50), (1860, 66), (1960, 80), (2060, 74), (2160, 92), (2260, 100), (2350, 84),
     (2440, 70), (2520, 48), (2600, 28), (2700, 14), (2850, 8), (3000, 16), (3100, 34), (3220, 56), (3320, 70),
     (3420, 82), (3520, 74), (3620, 84), (3720, 66), (3820, 48), (3920, 30), (4000, 20)],
    [(0, 12), (50, 20), (100, 30), (160, 40), (220, 46), (290, 40), (350, 52), (420, 44), (490, 58), (560, 50),
     (640, 64), (720, 52), (800, 58), (880, 44), (960, 46), (1040, 32), (1130, 22), (1250, 14), (1400, 6),
     (1550, 12), (1680, 22), (1790, 38), (1890, 52), (1990, 66), (2090, 78), (2190, 70), (2290, 86), (2380, 74),
     (2470, 60), (2550, 40), (2630, 24), (2740, 12), (2900, 6), (3050, 10), (3150, 26), (3260, 46), (3360, 60),
     (3460, 70), (3560, 64), (3660, 76), (3760, 58), (3860, 40), (3960, 28), (4000, 24)],
]

mkkk_p = [
    [(0, 6), (35, 35), (70, 78), (100, 95), (130, 88), (165, 55), (210, 28), (280, 14), (380, 8), (600, 4), (900, 3),
     (1200, 5), (1450, 10), (1650, 18), (1800, 22), (1950, 12), (2200, 4), (2500, 3), (2700, 10), (2850, 16),
     (3000, 20), (3100, 12), (3300, 4), (3700, 3), (4000, 4)],
    [(0, 8), (40, 40), (75, 82), (105, 98), (140, 84), (175, 50), (220, 24), (300, 12), (420, 6), (700, 3), (1000, 4),
     (1300, 6), (1500, 12), (1700, 20), (1850, 16), (2000, 8), (2300, 3), (2650, 6), (2800, 14), (2950, 18),
     (3100, 10), (3400, 4), (3800, 3), (4000, 3)],
    [(0, 10), (45, 42), (80, 80), (115, 96), (150, 78), (190, 44), (240, 20), (330, 10), (480, 5), (800, 2),
     (1100, 4), (1400, 8), (1600, 14), (1750, 20), (1900, 14), (2100, 6), (2400, 3), (2750, 12), (2900, 20),
     (3050, 14), (3250, 6), (3600, 3), (4000, 2)],
    [(0, 5), (30, 30), (65, 72), (95, 92), (125, 90), (160, 60), (200, 32), (260, 16), (360, 8), (520, 4), (850, 3),
     (1150, 5), (1350, 8), (1550, 16), (1720, 24), (1880, 18), (2050, 10), (2350, 4), (2600, 6), (2780, 16),
     (2920, 22), (3080, 16), (3300, 6), (3700, 4), (4000, 3)],
]

# drawn bottom to top
species = [
    ('MKKK_P', mkkk_p, '#add8e6', 3.5),
    ('MKK_P', mkk_p, '#ffc0cb', 4.0),
    ('MKKK', mkkk, '#00ffff', 4.5),
    ('MKK', mkk, '#800080', 2.3),
    ('MAPK_PP', mapk_pp, '#008000', 2.4),
    ('MAPK_P', mapk_p, '#0000ff', 2.3),
    ('MAPK', mapk, '#ff0000', 2.6),
]

fig = plt.figure(figsize=(11.99, 7.81), dpi=100)
ax = fig.add_axes([88 / 1199, 1 - 731.5 / 781, 1079 / 1199, 644.5 / 781])

for name, runs, color, lw in species:
    for run in runs:
        t = [p[0] for p in run]
        v = [p[1] for p in run]
        ax.plot(t, v, color=color, lw=lw, solid_joinstyle='round')

ax.set_xlim(0, 4000)
ax.set_ylim(0, 350)
ax.xaxis.set_major_locator(MultipleLocator(1000))
ax.xaxis.set_minor_locator(MultipleLocator(200))
ax.yaxis.set_major_locator(MultipleLocator(50))
ax.yaxis.set_minor_locator(MultipleLocator(10))
ax.tick_params(axis='x', which='major', direction='inout', length=15, width=1.5,
               pad=9, labelsize=19, labelcolor='#222222')
ax.tick_params(axis='x', which='minor', direction='out', length=5, width=1.2)
ax.tick_params(axis='y', which='major', direction='inout', length=16, width=1.5,
               pad=16, labelsize=19, labelcolor='#222222')
ax.tick_params(axis='y', which='minor', direction='inout', length=9, width=1.2)

top = ax.secondary_xaxis('top')
top.xaxis.set_major_locator(MultipleLocator(200))
top.tick_params(direction='in', length=7, width=1.2, labeltop=False)
right = ax.secondary_yaxis('right')
right.yaxis.set_major_locator(MultipleLocator(10))
right.tick_params(direction='in', length=5, width=1.2, labelright=False)

for sp in list(ax.spines.values()) + [top.spines['top'], right.spines['right']]:
    sp.set_linewidth(1.5)

# legend entries fill column by column
order = ['MAPK', 'MKKK', 'MAPK_P', 'MKK_P', 'MAPK_PP', 'MKKK_P', 'MKK']
colors = {name: color for name, _, color, _ in species}
handles = [Line2D([], [], color=colors[n], lw=3) for n in order]
leg = fig.legend(handles, order, ncol=4, loc='lower left', mode='expand',
                 bbox_to_anchor=(88 / 1199, 1 - 73 / 781, 900 / 1199, 62 / 781),
                 borderaxespad=0, fontsize=17, handlelength=2.5, handletextpad=0.85,
                 labelspacing=0.1, borderpad=0.2, fancybox=False, framealpha=1,
                 edgecolor='black')
leg.get_frame().set_linewidth(1.5)
for txt in leg.get_texts():
    txt.set_color('#222222')

fig.savefig('out.png', dpi=100)
